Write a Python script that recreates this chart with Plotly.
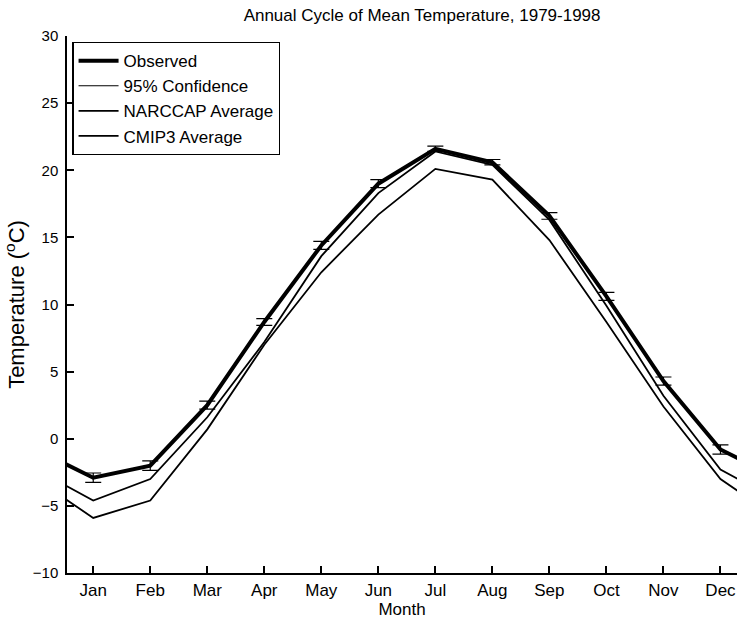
import plotly.graph_objects as go

months = ["Jan", "Feb", "Mar", "Apr", "May", "Jun", "Jul", "Aug", "Sep", "Oct", "Nov", "Dec"]
month_num = list(range(1, 13))
observed = [-2.9, -2.0, 2.5, 8.7, 14.4, 19.0, 21.6, 20.6, 16.6, 10.6, 4.3, -0.8]
conf95 = [0.35, 0.35, 0.3, 0.25, 0.3, 0.3, 0.2, 0.2, 0.25, 0.3, 0.3, 0.35]
narccap = [-4.6, -3.0, 1.6, 7.2, 13.6, 18.3, 21.4, 20.4, 16.3, 9.9, 3.2, -2.3]
cmip3 = [-5.9, -4.6, 0.7, 7.0, 12.4, 16.7, 20.1, 19.3, 14.8, 8.7, 2.4, -3.0]
yticks = [-10, -5, 0, 5, 10, 15, 20, 25, 30]

def wrap(vals):
    # periodic annual cycle: Dec before Jan and Jan after Dec
    return [0] + month_num + [13], [vals[-1]] + vals + [vals[0]]

FONT = "Liberation Sans, Arial, Helvetica, sans-serif"

fig = go.Figure()
x, y = wrap(observed)
fig.add_trace(go.Scatter(x=x, y=y, mode="lines", name="Observed",
                         line=dict(color="black", width=4)))
fig.add_trace(go.Scatter(x=month_num, y=observed, mode="lines", name="95% Confidence",
                         line=dict(color="black", width=1),
                         error_y=dict(type="data", array=conf95, visible=True,
                                      color="black", thickness=1.2, width=8)))
x, y = wrap(narccap)
fig.add_trace(go.Scatter(x=x, y=y, mode="lines", name="NARCCAP Average",
                         line=dict(color="black", width=1.8)))
x, y = wrap(cmip3)
fig.add_trace(go.Scatter(x=x, y=y, mode="lines", name="CMIP3 Average",
                         line=dict(color="black", width=1.8)))

fig.update_layout(
    width=737, height=627,
    margin=dict(l=67, r=0, t=36, b=54, autoexpand=False),
    paper_bgcolor="white", plot_bgcolor="white",
    font=dict(family=FONT, size=16, color="black"),
    title=dict(text="Annual Cycle of Mean Temperature, 1979-1998",
               x=0.53, xref="paper", xanchor="center", y=0.976, yanchor="middle",
               font=dict(family=FONT, size=17, color="black")),
    showlegend=True,
    legend=dict(x=0.008, y=0.989, xanchor="left", yanchor="top",
                bordercolor="black", borderwidth=1.2, bgcolor="white",
                font=dict(family=FONT, size=17, color="black"),
                tracegroupgap=0, itemwidth=40),
)
fig.update_xaxes(range=[0.54, 12.29], tickvals=month_num, ticktext=months,
                 ticks="inside", ticklen=7, tickcolor="black", tickwidth=1.5,
                 showline=True, linecolor="black", linewidth=1.5,
                 showgrid=False, zeroline=False, automargin=False,
                 ticklabelstandoff=1,
                 title=dict(text="Month", standoff=2,
                            font=dict(family=FONT, size=17)),
                 tickfont=dict(family=FONT, size=17))
fig.update_yaxes(range=[-10, 30], tickvals=yticks,
                 ticks="inside", ticklen=7, tickcolor="black", tickwidth=1.5,
                 showline=True, linecolor="black", linewidth=1.5,
                 showgrid=False, zeroline=False, automargin=False,
                 ticklabelstandoff=4,
                 title=dict(text="Temperature (<sup>o</sup>C)", standoff=2,
                            font=dict(family=FONT, size=22)),
                 tickfont=dict(family=FONT, size=15))

fig.write_html("out.html", config={"displayModeBar": False},
               post_script="document.body.style.margin='0';document.body.style.padding='0';")
